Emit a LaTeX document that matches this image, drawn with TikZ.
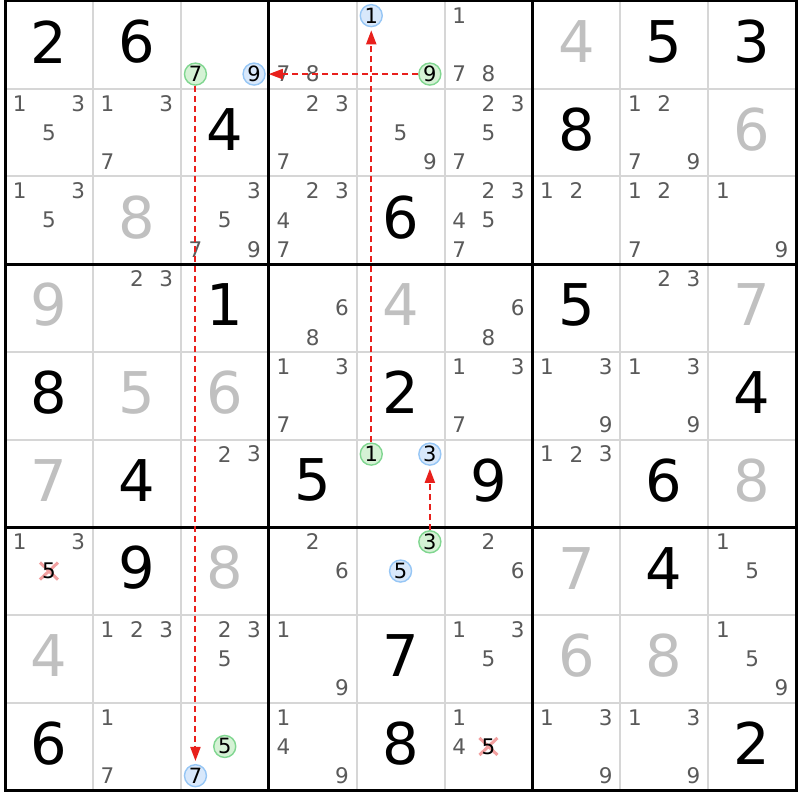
\documentclass[tikz,border=0pt]{standalone}
\usepackage{fontspec}
\setmainfont{DejaVu Sans}
\usetikzlibrary{arrows.meta}
\definecolor{givengray}{HTML}{C0C0C0}
\definecolor{candgray}{HTML}{5A5A5A}
\definecolor{gridgray}{HTML}{D6D6D6}
\definecolor{grnfill}{HTML}{D5F2D5}
\definecolor{grnline}{HTML}{80D690}
\definecolor{blufill}{HTML}{D8E8FB}
\definecolor{bluline}{HTML}{96C6F5}
\definecolor{linkred}{HTML}{E8201C}
\definecolor{xpink}{HTML}{F2A0A0}
\def\OX{5}\def\OY{1}\def\CW{87.9}\def\CH{87.7}
\tikzset{
  bigd/.style={font=\fontsize{57.5}{57.5}\selectfont, inner sep=0pt},
  candd/.style={font=\fontsize{21.5}{21.5}\selectfont, text=candgray, inner sep=0pt},
  grn/.style={circle, draw=grnline, fill=grnfill, line width=1.4pt, minimum size=22pt, inner sep=0pt, font=\fontsize{21}{21}\selectfont, text=black},
  blu/.style={circle, draw=bluline, fill=blufill, line width=1.4pt, minimum size=22pt, inner sep=0pt, font=\fontsize{21}{21}\selectfont, text=black},
  gridthin/.style={draw=gridgray, line width=2pt},
  gridthick/.style={draw=black, line width=3pt},
  link/.style={draw=linkred, line width=2pt, dash pattern=on 6pt off 4pt, -{Triangle[length=14pt,width=10pt]}, shorten >=3pt},
  xmark/.style={draw=xpink, line width=3pt}
}
\newcommand\gv[4]{\node[bigd,text=#4] (g#1#2) at ({\OX+(#2-0.5)*\CW},{\OY+(#1-0.5)*\CH-3}) {#3};}
\newcommand\cand[4][candd]{%
  \pgfmathsetmacro\cx{\OX+(#3-1)*\CW+(mod(#4-1,3)+0.5)*\CW/3}%
  \pgfmathsetmacro\cy{\OY+(#2-1)*\CH+(floor((#4-1)/3)+0.5)*\CH/3}%
  \node[#1] (c#2#3#4) at (\cx,\cy) {#4};}
\newcommand\cands[3]{\foreach \k in {#3}{\cand{#1}{#2}{\k}}}
\newcommand\crossed[3]{%
  \pgfmathsetmacro\cx{\OX+(#2-1)*\CW+(mod(#3-1,3)+0.5)*\CW/3}%
  \pgfmathsetmacro\cy{\OY+(#1-1)*\CH+(floor((#3-1)/3)+0.5)*\CH/3}%
  \draw[xmark] (\cx-9,\cy-8.5) -- (\cx+9,\cy+8.5) (\cx-9,\cy+8.5) -- (\cx+9,\cy-8.5);
  \node[candd,text=black] (x#1#2#3) at (\cx,\cy) {#3};}
\begin{document}
\begin{tikzpicture}[x=1pt,y=-1pt]
\fill[white] (0,0) rectangle (800,800);
\useasboundingbox (0,0) rectangle (800,800);
% grid
\foreach \i in {1,2,4,5,7,8}{
  \draw[gridthin] ({\OX+\i*\CW},\OY) -- ({\OX+\i*\CW},{\OY+9*\CH});
  \draw[gridthin] (\OX,{\OY+\i*\CH}) -- ({\OX+9*\CW},{\OY+\i*\CH});
}
\foreach \i in {3,6}{
  \draw[gridthick] ({\OX+\i*\CW},\OY) -- ({\OX+\i*\CW},{\OY+9*\CH});
  \draw[gridthick] (\OX,{\OY+\i*\CH}) -- ({\OX+9*\CW},{\OY+\i*\CH});
}
\draw[gridthick] (\OX,\OY) rectangle ({\OX+9*\CW},{\OY+9*\CH});
% row 1
\gv{1}{1}{2}{black}\gv{1}{2}{6}{black}
\cand[grn]{1}{3}{7}\cand[blu]{1}{3}{9}
\cands{1}{4}{7,8}
\cand[blu]{1}{5}{1}\cand[grn]{1}{5}{9}
\cands{1}{6}{1,7,8}
\gv{1}{7}{4}{givengray}\gv{1}{8}{5}{black}\gv{1}{9}{3}{black}
% row 2
\cands{2}{1}{1,3,5}\cands{2}{2}{1,3,7}\gv{2}{3}{4}{black}
\cands{2}{4}{2,3,7}\cands{2}{5}{5,9}\cands{2}{6}{2,3,5,7}
\gv{2}{7}{8}{black}\cands{2}{8}{1,2,7,9}\gv{2}{9}{6}{givengray}
% row 3
\cands{3}{1}{1,3,5}\gv{3}{2}{8}{givengray}\cands{3}{3}{3,5,7,9}
\cands{3}{4}{2,3,4,7}\gv{3}{5}{6}{black}\cands{3}{6}{2,3,4,5,7}
\cands{3}{7}{1,2}\cands{3}{8}{1,2,7}\cands{3}{9}{1,9}
% row 4
\gv{4}{1}{9}{givengray}\cands{4}{2}{2,3}\gv{4}{3}{1}{black}
\cands{4}{4}{6,8}\gv{4}{5}{4}{givengray}\cands{4}{6}{6,8}
\gv{4}{7}{5}{black}\cands{4}{8}{2,3}\gv{4}{9}{7}{givengray}
% row 5
\gv{5}{1}{8}{black}\gv{5}{2}{5}{givengray}\gv{5}{3}{6}{givengray}
\cands{5}{4}{1,3,7}\gv{5}{5}{2}{black}\cands{5}{6}{1,3,7}
\cands{5}{7}{1,3,9}\cands{5}{8}{1,3,9}\gv{5}{9}{4}{black}
% row 6
\gv{6}{1}{7}{givengray}\gv{6}{2}{4}{black}\cands{6}{3}{2,3}
\gv{6}{4}{5}{black}\cand[grn]{6}{5}{1}\cand[blu]{6}{5}{3}\gv{6}{6}{9}{black}
\cands{6}{7}{1,2,3}\gv{6}{8}{6}{black}\gv{6}{9}{8}{givengray}
% row 7
\cands{7}{1}{1,3}\crossed{7}{1}{5}\gv{7}{2}{9}{black}\gv{7}{3}{8}{givengray}
\cands{7}{4}{2,6}\cand[grn]{7}{5}{3}\cand[blu]{7}{5}{5}\cands{7}{6}{2,6}
\gv{7}{7}{7}{givengray}\gv{7}{8}{4}{black}\cands{7}{9}{1,5}
% row 8
\gv{8}{1}{4}{givengray}\cands{8}{2}{1,2,3}\cands{8}{3}{2,3,5}
\cands{8}{4}{1,9}\gv{8}{5}{7}{black}\cands{8}{6}{1,3,5}
\gv{8}{7}{6}{givengray}\gv{8}{8}{8}{givengray}\cands{8}{9}{1,5,9}
% row 9
\gv{9}{1}{6}{black}\cands{9}{2}{1,7}\cand[grn]{9}{3}{5}\cand[blu]{9}{3}{7}
\cands{9}{4}{1,4,9}\gv{9}{5}{8}{black}\cands{9}{6}{1,4}\crossed{9}{6}{5}
\cands{9}{7}{1,3,9}\cands{9}{8}{1,3,9}\gv{9}{9}{2}{black}
% links
\draw[link] (c651) -- (c151);
\draw[link] (c159) -- (c139);
\draw[link] (c137) -- (c937);
\draw[link] (c753) -- (c653);
\end{tikzpicture}
\end{document}
